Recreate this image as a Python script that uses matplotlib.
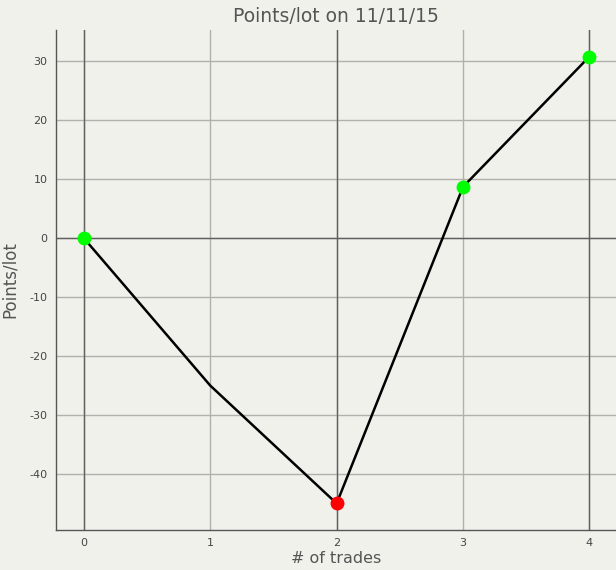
import matplotlib.pyplot as plt

plt.rcParams['axes.unicode_minus'] = False

trades = [0, 1, 2, 3, 4]
points = [0, -25, -45, 8.7, 30.8]
marker_colors = ['#00ff00', None, '#ff0000', '#00ff00', '#00ff00']
yticks = [-40, -30, -20, -10, 0, 10, 20, 30]

bg = '#f1f1ec'
fig = plt.figure(figsize=(6.16, 5.7), dpi=100, facecolor=bg)
ax = fig.add_axes([56 / 616, 40 / 570, 560 / 616, 500 / 570], facecolor=bg)

ax.set_xlim(-0.22, 4.21)
ax.set_ylim(-49.5, 35.3)
ax.set_xticks(trades)
ax.set_yticks(yticks)
ax.grid(True, color='#b0b0ac', linewidth=1, zorder=0.5)
ax.set_axisbelow(True)
# darker lines at even trade counts and the zero line
for x in trades[::2]:
    ax.axvline(x, color='#606060', linewidth=1, zorder=1)
ax.axhline(0, color='#606060', linewidth=1, zorder=1)

ax.plot(trades, points, color='black', linewidth=1.8, zorder=2)
for x, y, c in zip(trades, points, marker_colors):
    if c:
        ax.plot(x, y, 'o', color=c, markersize=9, zorder=3)

for s in ['top', 'right']:
    ax.spines[s].set_visible(False)
for s in ['left', 'bottom']:
    ax.spines[s].set_color('#555555')
    ax.spines[s].set_linewidth(1)

ax.tick_params(length=0, labelsize=8, colors='#444444', pad=6)
ax.set_xlabel('# of trades', fontsize=11.5, color='#555555')
ax.set_ylabel('Points/lot', fontsize=12, color='#555555')
ax.xaxis.set_label_coords(0.5, -0.042)
ax.yaxis.set_label_coords(-0.066, 0.5)
ax.set_title('Points/lot on 11/11/15', fontsize=13.5, color='#555555', pad=6)

fig.savefig('out.png', dpi=100, facecolor=bg)
